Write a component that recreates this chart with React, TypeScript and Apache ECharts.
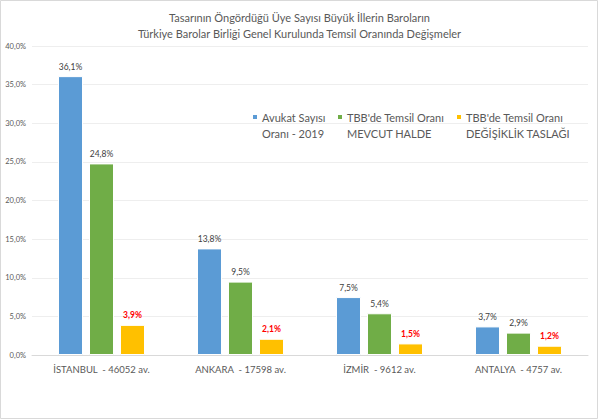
import React, { useEffect, useRef } from "react";
import * as echarts from "echarts";

const titleLines = [
  "Tasarının Öngördüğü Üye Sayısı Büyük İllerin Baroların",
  "Türkiye Barolar Birliği Genel Kurulunda Temsil Oranında Değişmeler",
];
const categories = [
  "İSTANBUL  - 46052 av.",
  "ANKARA  - 17598 av.",
  "İZMİR  - 9612 av.",
  "ANTALYA  - 4757 av.",
];
const seriesNames = [
  "Avukat Sayısı\nOranı - 2019",
  "TBB'de Temsil Oranı\nMEVCUT HALDE",
  "TBB'de Temsil Oranı\nDEĞİŞİKLİK TASLAĞI",
];
const avukatOrani = [36.1, 13.8, 7.5, 3.7];
const mevcutHalde = [24.8, 9.5, 5.4, 2.9];
const degisiklikTaslagi = [3.9, 2.1, 1.5, 1.2];
const yTicks = [0, 5, 10, 15, 20, 25, 30, 35, 40];

const FONT = "Lato, 'Liberation Sans', sans-serif";
const colors = ["#5b9bd5", "#70ad47", "#ffc000"];
const fmt = (v: number, d = 1) => v.toFixed(d).replace(".", ",") + "%";
const legendIcon = "path://M0,0L0,0M0,5L6,5L6,11L0,11ZM6,32L6,32";

export default function App() {
  const ref = useRef<HTMLDivElement>(null);
  useEffect(() => {
    if (!ref.current) return;
    const chart = echarts.init(ref.current, null, { renderer: "svg" });
    const values = [avukatOrani, mevcutHalde, degisiklikTaslagi];
    const legendLefts = [251, 336, 455];
    chart.setOption({
      animation: false,
      backgroundColor: "#ffffff",
      textStyle: { fontFamily: FONT },
      title: {
        text: titleLines.join("\n"),
        left: "center",
        top: 9,
        padding: 0,
        textStyle: {
          fontFamily: FONT,
          fontSize: 11,
          fontWeight: "normal",
          color: "#595959",
          lineHeight: 16,
        },
      },
      legend: seriesNames.map((n, i) => ({
        data: [n],
        left: legendLefts[i],
        top: 108,
        padding: 0,
        itemWidth: 6,
        itemHeight: 32,
        itemGap: 4,
        icon: legendIcon,
        selectedMode: false,
        textStyle: {
          fontFamily: FONT,
          fontSize: 11,
          color: "#595959",
          lineHeight: 16,
          align: "left",
          padding: [0, 0, 0, -1],
        },
      })),
      grid: { left: 32, right: 11, top: 46, bottom: 65, containLabel: false },
      xAxis: {
        type: "category",
        data: categories,
        axisLine: { lineStyle: { color: "#d9d9d9" } },
        axisTick: { show: false },
        axisLabel: {
          interval: 0,
          color: "#595959",
          fontSize: 9.5,
          fontFamily: FONT,
          margin: 9,
        },
      },
      yAxis: {
        type: "value",
        min: 0,
        max: 40,
        interval: 5,
        axisLine: { show: false },
        axisTick: { show: false },
        splitLine: { lineStyle: { color: "#eeeeee" } },
        axisLabel: {
          color: "#595959",
          fontSize: 7.5,
          fontFamily: FONT,
          margin: 6,
          formatter: (v: number) => (yTicks.includes(v) ? fmt(v) : ""),
        },
      },
      series: values.map((arr, i) => ({
        name: seriesNames[i],
        type: "bar",
        data: arr,
        barWidth: 25,
        barGap: "24%",
        itemStyle: { color: colors[i], borderColor: "#ffffff", borderWidth: 1 },
        label: {
          show: true,
          position: "top",
          distance: 5,
          fontSize: 8.5,
          fontFamily: FONT,
          color: i === 2 ? "#ff0000" : "#404040",
          fontWeight: i === 2 ? "bold" : "normal",
          formatter: (p: any) => fmt(p.value),
        },
      })),
      graphic: [
        {
          type: "rect",
          shape: { x: 0.5, y: 0.5, width: 597, height: 418 },
          style: { fill: "none", stroke: "#d9d9d9", lineWidth: 1 },
          silent: true,
        },
      ],
    });
    return () => chart.dispose();
  }, []);
  return (
    <div
      ref={ref}
      style={{ position: "fixed", left: 0, top: 0, width: 599, height: 420 }}
    />
  );
}
